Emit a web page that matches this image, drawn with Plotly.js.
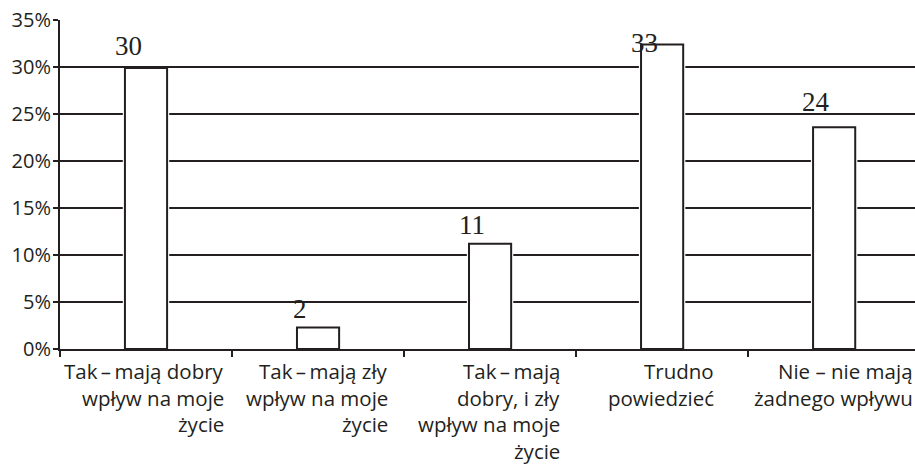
<!DOCTYPE html>
<html>
<head>
<meta charset="utf-8">
<script src="https://cdn.plot.ly/plotly-3.0.1.min.js"></script>
<style>
  html, body { margin: 0; padding: 0; background: #fff; }
  #chart { width: 915px; height: 465px; }
</style>
</head>
<body>
<div id="chart"></div>
<script>
// Categories (line breaks as in the reference)
const categories = [
  "Tak\u2009–\u2009mają dobry<br>wpływ na moje<br>życie",
  "Tak\u2009–\u2009mają zły<br>wpływ na moje<br>życie",
  "Tak\u2009–\u2009mają<br>dobry, i zły<br>wpływ na moje<br>życie",
  "Trudno<br>powiedzieć",
  "Nie – nie mają<br>żadnego wpływu"
];
// Bar heights (percent) as drawn
const values = [29.9, 2.3, 11.2, 32.4, 23.6];
// Value labels as printed
const valueLabels = [30, 2, 11, 33, 24];
// Y tick values
const yTicks = [0, 5, 10, 15, 20, 25, 30, 35];

const ink = '#231f20';
const yMax = 35;
const labelFontSize = 20.5;
const labelFont = 'Open Sans';
const lineStep = 26.5;

const halo = {
  type: 'bar', x: categories, y: values, width: 0.27,
  marker: { color: '#ffffff', line: { width: 0 } },
  hoverinfo: 'skip', showlegend: false
};
const bars = {
  type: 'bar', x: categories, y: values, width: 0.245,
  marker: { color: '#ffffff', line: { color: ink, width: 2 } },
  showlegend: false
};

const canvas = document.createElement('canvas');
const ctx = canvas.getContext('2d');
ctx.font = labelFontSize + 'px "' + labelFont + '"';

const annotations = [];
categories.forEach((c, i) => {
  // value label; kept inside the plot area when it would overflow the top
  const overflow = valueLabels[i] + 3.2 > yMax;
  annotations.push({
    x: c, y: overflow ? yMax : valueLabels[i], xref: 'x', yref: 'y',
    text: String(valueLabels[i]), showarrow: false,
    xanchor: 'center', yanchor: overflow ? 'top' : 'bottom',
    xshift: -18, yshift: overflow ? -6 : 4,
    font: { family: 'Liberation Serif, Times New Roman, serif', size: 27, color: ink }
  });
  // category label: block centred on the category, lines right-aligned
  const lines = c.split('<br>');
  const maxW = Math.max(...lines.map(l => ctx.measureText(l).width));
  lines.forEach((l, k) => {
    annotations.push({
      x: c, y: 0, xref: 'x', yref: 'paper',
      text: l, showarrow: false,
      xanchor: 'right', yanchor: 'top',
      xshift: maxW / 2 + 1, yshift: -6 - k * lineStep,
      font: { family: labelFont + ', sans-serif', size: labelFontSize, color: ink }
    });
  });
});

const layout = {
  width: 915, height: 465,
  margin: { l: 60, r: 0, t: 20, b: 116, pad: 0 },
  paper_bgcolor: '#ffffff', plot_bgcolor: '#ffffff',
  barmode: 'overlay',
  showlegend: false,
  xaxis: {
    type: 'category', range: [-0.5, 4.47],
    showgrid: false, zeroline: false,
    showline: true, linecolor: ink, linewidth: 2,
    ticks: 'outside', tickson: 'boundaries', ticklen: 6, tickwidth: 2, tickcolor: ink,
    showticklabels: false, fixedrange: true
  },
  yaxis: {
    range: [0, yMax], tickvals: yTicks, ticktext: yTicks.map(v => v + '%'),
    showgrid: true, gridcolor: ink, gridwidth: 2,
    zeroline: false, showline: true, linecolor: ink, linewidth: 2,
    ticks: 'outside', ticklen: 5, tickwidth: 2, tickcolor: ink,
    tickfont: { family: 'Open Sans, sans-serif', size: 20, color: ink },
    ticklabelstandoff: -2, fixedrange: true
  },
  annotations: annotations
};

Plotly.newPlot('chart', [halo, bars], layout, { displayModeBar: false, staticPlot: true });
</script>
</body>
</html>
